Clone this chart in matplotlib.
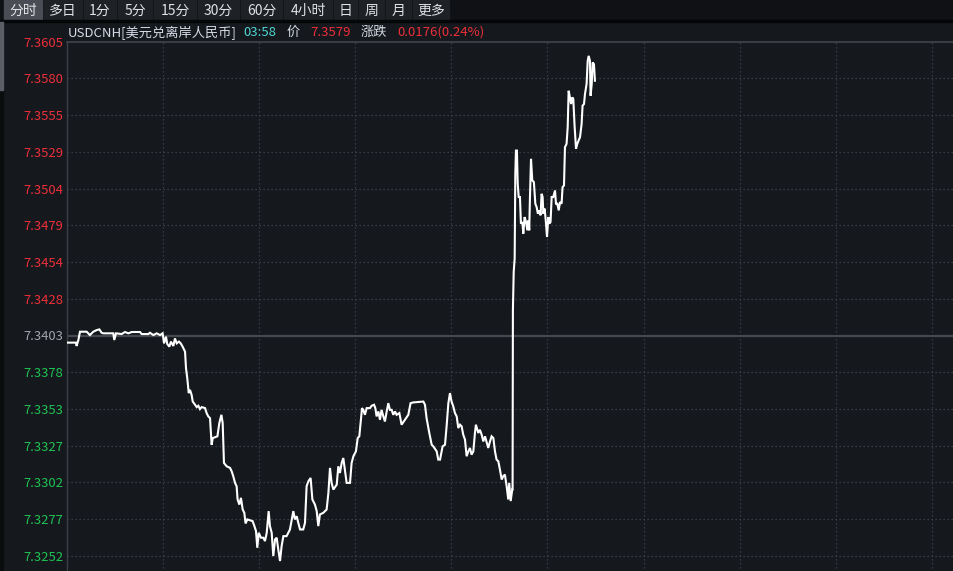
import matplotlib
matplotlib.use('Agg')
import matplotlib.pyplot as plt
from matplotlib.patches import Rectangle
import numpy as np

plt.rcParams['font.family'] = ['Noto Sans CJK SC', 'DejaVu Sans']

# ---------------- data ----------------
symbol_name = 'USDCNH[美元兑离岸人民币]'
cur_time = '03:58'
price_label = '价'
last_price = '7.3579'
change_label = '涨跌'
change_text = '0.0176(0.24%)'
prev_close = 7.3403
max_dev = 0.0202
tab_labels = ['分时', '多日', '1分', '5分', '15分', '30分', '60分', '4小时', '日', '周', '月', '更多']
y_tick_labels = ['7.3605', '7.3580', '7.3555', '7.3529', '7.3504', '7.3479', '7.3454', '7.3428',
                 '7.3403', '7.3378', '7.3353', '7.3327', '7.3302', '7.3277', '7.3252']

minutes = [0.2, 5.6, 6.0, 7.1, 8.1, 12.3, 14.3, 15.4, 16.4, 18.5, 20.2, 21.6, 22.7, 28.9, 29.5, 30.6,
           34.1, 36.2, 38.3, 40.4, 45.6, 46.6, 50.8, 51.8, 53.9, 56.0, 58.1, 59.7, 60.6, 61.8, 62.6,
           63.9, 64.9, 66.4, 67.4, 68.5, 69.9, 71.0, 72.2, 73.7, 74.3, 75.1, 76.0, 76.8, 77.8, 78.5,
           79.9, 81.0, 82.0, 83.0, 84.1, 86.2, 87.2, 88.2, 89.3, 90.3, 91.0, 93.9, 95.1, 96.4, 97.2,
           98.0, 99.7, 101.8, 102.8, 103.8, 104.9, 105.9, 106.5, 107.6, 108.6, 109.7, 110.7, 111.5,
           112.6, 115.9, 117.0, 118.0, 118.8, 119.7, 121.1, 122.6, 123.6, 124.7, 125.9, 126.7, 127.8,
           128.8, 129.9, 130.9, 131.9, 133.0, 134.0, 135.1, 137.1, 139.2, 141.3, 142.3, 143.4, 144.4,
           145.5, 147.5, 148.6, 149.6, 150.7, 152.1, 153.2, 154.8, 155.9, 156.9, 157.9, 160.0, 162.1,
           163.2, 164.2, 165.2, 166.3, 168.4, 169.4, 170.4, 171.5, 172.5, 173.6, 174.6, 176.7, 177.7,
           178.8, 180.4, 181.5, 182.5, 183.3, 184.2, 185.0, 186.0, 187.1, 189.2, 190.2, 191.7, 192.5,
           193.3, 194.4, 195.4, 196.4, 197.5, 198.5, 199.6, 200.6, 201.6, 202.7, 203.7, 204.8, 205.8,
           207.5, 208.9, 211.0, 213.1, 214.5, 216.2, 222.5, 223.5, 224.5, 226.2, 227.7, 228.7, 230.8,
           231.8, 232.9, 234.5, 236.0, 237.0, 238.1, 239.1, 240.1, 241.2, 242.2, 243.3, 244.3, 245.4,
           246.4, 247.4, 248.5, 249.5, 250.6, 251.6, 252.6, 253.7, 254.7, 255.3, 256.8, 257.8, 258.9,
           259.9, 261.0, 263.0, 264.1, 265.1, 266.2, 267.2, 268.2, 269.3, 270.3, 271.4, 272.4, 273.4,
           274.5, 275.5, 276.1, 277.0, 278.0, 278.2, 278.4, 278.9, 279.5, 279.9, 280.3, 280.9, 281.4,
           282.0, 282.8, 283.4, 284.3, 284.9, 285.7, 286.6, 287.4, 288.2, 288.6, 289.0, 289.7, 290.5,
           291.5, 292.4, 293.2, 294.0, 294.9, 295.7, 296.3, 296.96, 297.4, 298.2, 299.0, 299.7, 300.5,
           301.1, 301.9, 302.6, 303.6, 304.7, 305.3, 306.1, 307.0, 307.8, 308.8, 309.4, 310.3, 310.9,
           311.9, 312.6, 313.2, 314.0, 314.7, 315.5, 316.1, 316.9, 317.8, 318.6, 319.4, 320.3, 321.3,
           321.9, 322.8, 323.4, 324.4, 325.1, 325.7, 326.5, 326.9, 327.6, 328.2, 329.0, 329.6]

prices = [7.33981, 7.33981, 7.33958, 7.33999, 7.34056, 7.34056, 7.34033, 7.34045, 7.34056, 7.34067,
          7.34072, 7.34049, 7.34045, 7.34045, 7.33999, 7.34045, 7.34040, 7.34054, 7.34045, 7.34054,
          7.34054, 7.34040, 7.34040, 7.34049, 7.34033, 7.34045, 7.34033, 7.34045, 7.33976, 7.34022,
          7.33972, 7.33953, 7.33988, 7.33958, 7.34010, 7.33976, 7.33988, 7.33976, 7.33953, 7.33919,
          7.33805, 7.33736, 7.33634, 7.33656, 7.33622, 7.33576, 7.33554, 7.33538, 7.33547, 7.33524,
          7.33538, 7.33531, 7.33496, 7.33474, 7.33462, 7.33279, 7.33325, 7.33337, 7.33428, 7.33485,
          7.33428, 7.33154, 7.33131, 7.33120, 7.33097, 7.33063, 7.33017, 7.32994, 7.32903, 7.32868,
          7.32914, 7.32834, 7.32811, 7.32738, 7.32766, 7.32754, 7.32720, 7.32686, 7.32571, 7.32674,
          7.32640, 7.32640, 7.32617, 7.32674, 7.32823, 7.32720, 7.32674, 7.32514, 7.32629, 7.32640,
          7.32560, 7.32480, 7.32583, 7.32651, 7.32651, 7.32697, 7.32823, 7.32766, 7.32788, 7.32743,
          7.32697, 7.32697, 7.32743, 7.32994, 7.33028, 7.33051, 7.32903, 7.32868, 7.32823, 7.32720,
          7.32800, 7.32811, 7.32834, 7.32948, 7.33120, 7.33017, 7.32971, 7.33005, 7.33131, 7.33085,
          7.33154, 7.33188, 7.33097, 7.33017, 7.33017, 7.33154, 7.33200, 7.33234, 7.33325, 7.33337,
          7.33428, 7.33531, 7.33519, 7.33485, 7.33531, 7.33531, 7.33547, 7.33554, 7.33531, 7.33474,
          7.33508, 7.33451, 7.33519, 7.33474, 7.33439, 7.33508, 7.33565, 7.33519, 7.33519, 7.33485,
          7.33508, 7.33485, 7.33497, 7.33417, 7.33451, 7.33485, 7.33565, 7.33570, 7.33576, 7.33554,
          7.33462, 7.33360, 7.33279, 7.33268, 7.33234, 7.33177, 7.33177, 7.33268, 7.33279, 7.33405,
          7.33565, 7.33634, 7.33576, 7.33542, 7.33497, 7.33474, 7.33394, 7.33417, 7.33405, 7.33348,
          7.33314, 7.33200, 7.33234, 7.33257, 7.33211, 7.33234, 7.33360, 7.33417, 7.33360, 7.33382,
          7.33348, 7.33302, 7.33337, 7.33257, 7.33302, 7.33337, 7.33325, 7.33234, 7.33177, 7.33165,
          7.33108, 7.33040, 7.33063, 7.33074, 7.32994, 7.32903, 7.33017, 7.32892, 7.32972, 7.32972,
          7.34205, 7.34468, 7.34559, 7.35141, 7.35301, 7.35301, 7.35073, 7.34982, 7.34982, 7.34799,
          7.34810, 7.34730, 7.34844, 7.34810, 7.34753, 7.34822, 7.34753, 7.34959, 7.35244, 7.35096,
          7.35084, 7.34936, 7.34913, 7.34867, 7.34890, 7.34856, 7.35004, 7.34982, 7.34867, 7.34902,
          7.34810, 7.34707, 7.34844, 7.34799, 7.34810, 7.34982, 7.34982, 7.35027, 7.34936, 7.34936,
          7.34890, 7.34947, 7.34936, 7.35050, 7.35061, 7.35324, 7.35347, 7.35461, 7.35712, 7.35667,
          7.35621, 7.35667, 7.35655, 7.35473, 7.35313, 7.35347, 7.35370, 7.35393, 7.35484, 7.35610,
          7.35621, 7.35690, 7.35758, 7.35918, 7.35952, 7.35918, 7.35678, 7.35758, 7.35907, 7.35895,
          7.35781]

# ---------------- style ----------------
W, H = 954, 571
BG = '#15181d'
RED = '#ee2f3a'
GREEN = '#1fc453'
GREY = '#a2a6ad'
GRID = '#42464d'
TXT = '#d6dbe6'

fig = plt.figure(figsize=(W / 100, H / 100), dpi=100, facecolor=BG)

# overlay in pixel coordinates for the UI chrome
ov = fig.add_axes([0, 0, 1, 1])
ov.set_xlim(0, W)
ov.set_ylim(H, 0)
ov.axis('off')
ov.patch.set_alpha(0)

# toolbar row
ov.add_patch(Rectangle((0, 0), W, 21, color='#0f1114', zorder=1))
tab_edges = [3, 43, 83, 117, 153, 197, 240, 283, 333, 358, 385, 412, 450]
for i, lab in enumerate(tab_labels):
    x0, x1 = tab_edges[i], tab_edges[i + 1]
    col = '#4b4d56' if i == 0 else '#1e2125'
    ov.add_patch(Rectangle((x0 + 1, 0), x1 - x0 - 2, 20, color=col, zorder=2))
    ov.text((x0 + x1) / 2, 10.5, lab, color='#e0e2e6', fontsize=10,
            ha='center', va='center', zorder=3)
ov.add_patch(Rectangle((0, 20), W, 1.5, color='#050607', zorder=2))

# left side strip
ov.add_patch(Rectangle((0, 21), 3, H - 21, color='#0b0c0e', zorder=2))
ov.add_patch(Rectangle((0, 22), 3, 68, color='#5c5e66', zorder=3))

# title row
ty = 32.5
fs_title = 9.5
ov.text(68, ty, symbol_name, color=TXT, fontsize=fs_title, ha='left', va='center')
ov.text(243, ty, cur_time, color='#4fd6d3', fontsize=fs_title, ha='left', va='center')
ov.text(287, ty, price_label, color=TXT, fontsize=fs_title, ha='left', va='center')
ov.text(310, ty, last_price, color=RED, fontsize=fs_title, ha='left', va='center')
ov.text(361, ty, change_label, color=TXT, fontsize=fs_title, ha='left', va='center')
ov.text(397, ty, change_text, color=RED, fontsize=fs_title, ha='left', va='center')

# ---------------- main chart ----------------
top_px = 41.6
half_px = 335.5 - top_px
left_px = 67
ax_left = left_px / W
ax_top = 1 - top_px / H
ax_h = 2 * half_px / H
ax = fig.add_axes([ax_left, ax_top - ax_h, 1 - ax_left + 0.01, ax_h])
ax.set_facecolor(BG)

ax.set_ylim(prev_close - max_dev, prev_close + max_dev)
total_minutes = (W - left_px) / 96.1 * 60 * (1 - ax_left + 0.01) / (1 - ax_left)
ax.set_xlim(0, total_minutes)

n = len(y_tick_labels)
tick_pos = [prev_close + max_dev * (8 - k) / 8 for k in range(n)]
ax.set_yticks(tick_pos)
ax.set_yticklabels(y_tick_labels)
for k, lbl in enumerate(ax.get_yticklabels()):
    if k < 8:
        lbl.set_color(RED)
    elif k == 8:
        lbl.set_color(GREY)
    else:
        lbl.set_color(GREEN)
ax.tick_params(axis='y', length=0, pad=2.5, labelsize=9.4)
ax.set_xticks(np.arange(60, total_minutes, 60))
ax.tick_params(axis='x', length=0, labelbottom=False)

ax.grid(True, color=GRID, linestyle=(0, (1, 2.2)), linewidth=0.9)

for s in ['right', 'bottom']:
    ax.spines[s].set_visible(False)
ax.spines['left'].set_color('#3b3e44')
ax.spines['left'].set_linewidth(1.0)
ax.spines['top'].set_color('#3b3e44')
ax.spines['top'].set_linewidth(1.4)

ax.axhline(prev_close, color='#45484e', linewidth=1.6, zorder=2)
ax.plot(minutes, prices, color='white', linewidth=1.5, zorder=3, solid_joinstyle='miter')

fig.savefig('out.png', dpi=100, facecolor=BG)
